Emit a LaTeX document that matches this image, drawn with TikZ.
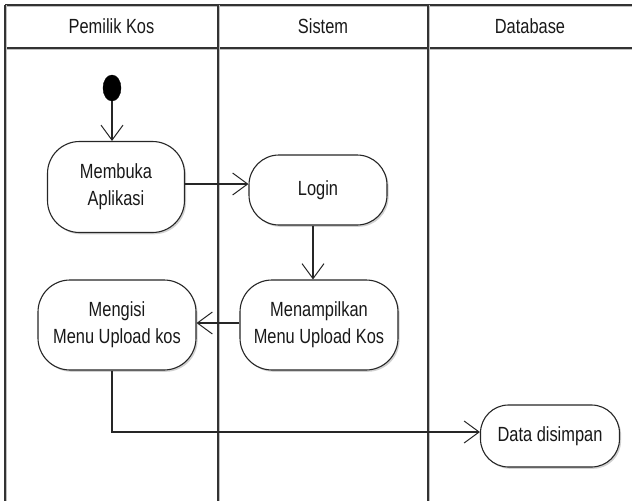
\documentclass[tikz,border=0pt]{standalone}
\usepackage{fontspec}
\setmainfont[FakeStretch=0.8]{Liberation Sans}
\usetikzlibrary{arrows.meta,shapes.geometric,shadows}
\begin{document}
\begin{tikzpicture}[x=1pt,y=-1pt,
  every node/.style={font=\fontsize{20.5}{27}\selectfont, text=black!90},
  lane/.style={draw=black!80, line width=1.3pt},
  act/.style={draw=black!85, line width=1.1pt, fill=white, rounded corners=32pt,
    align=center, inner sep=0pt,
    drop shadow={shadow xshift=1.6pt, shadow yshift=-1.8pt, fill=black!30, opacity=0.6}},
  flow/.style={draw=black!85, line width=1.1pt, -{Straight Barb[length=15pt,width=22pt,line width=1pt]}}
]
\useasboundingbox (0,0) rectangle (632,501);
% swimlane frame
\draw[black!25, line width=1.2pt] (5,6.5) -- (632,6.5);
\draw[black!25, line width=1.2pt] (5,49.5) -- (632,49.5);
\draw[lane] (5,5) -- (632,5);
\draw[lane] (5,48) -- (632,48);
\draw[black!25, line width=1.2pt] (6.5,5) -- (6.5,501);
\draw[black!25, line width=1.2pt] (219.5,5) -- (219.5,501);
\draw[black!25, line width=1.2pt] (429.5,5) -- (429.5,501);
\draw[lane] (5,5) -- (5,501);
\draw[lane] (218,5) -- (218,501);
\draw[lane] (428,5) -- (428,501);
\node (h1) at (111.5,26) {Pemilik Kos};
\node (h2) at (323,26) {Sistem};
\node (h3) at (530,26) {Database};
% nodes
\node[ellipse, fill=black, draw=black, minimum width=18pt, minimum height=26pt, inner sep=0pt] (start) at (112,88) {};
\node[act, minimum width=137pt, minimum height=91pt] (membuka) at (116,187) {Membuka\\Aplikasi};
\node[act, minimum width=138pt, minimum height=70pt, rounded corners=30pt] (login) at (318,190) {Login};
\node[act, minimum width=158pt, minimum height=90pt] (tampil) at (319,325) {Menampilkan\\Menu Upload Kos};
\node[act, minimum width=158pt, minimum height=90pt] (isi) at (117,325) {Mengisi\\Menu Upload kos};
\node[act, minimum width=139pt, minimum height=62pt, rounded corners=28pt] (data) at (550,436) {Data disimpan};
% connector anchors
\coordinate (a1) at ([yshift=3pt]membuka.east);
\coordinate (a2) at ([xshift=-5pt]login.south);
\coordinate (a3) at ([yshift=2pt]tampil.west);
\coordinate (a4) at ([xshift=-5pt]isi.south);
\coordinate (a5) at ([yshift=4pt]data.west);
% connectors
\draw[flow] (start) -- (start |- membuka.north);
\draw[flow] (a1) -- (login.west |- a1);
\draw[flow] (a2) -- (a2 |- tampil.north);
\draw[flow] (a3) -- (isi.east |- a3);
\draw[flow] (a4) |- (a5);
\end{tikzpicture}
\end{document}
